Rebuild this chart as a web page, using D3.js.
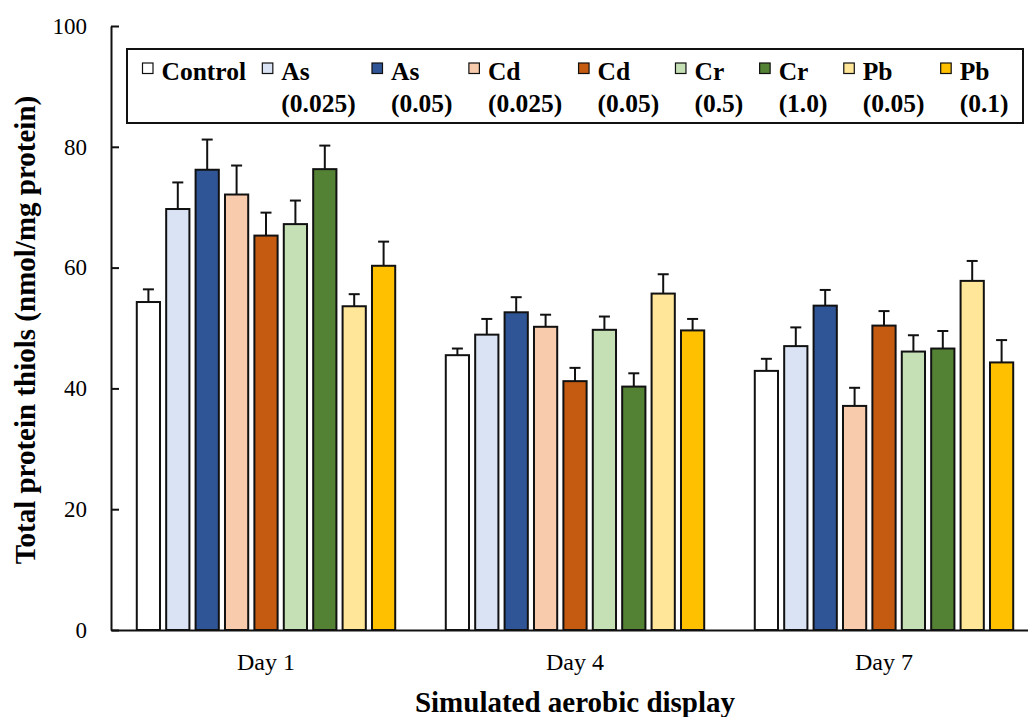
<!DOCTYPE html>
<html>
<head>
<meta charset="utf-8">
<script src="https://cdn.jsdelivr.net/npm/d3@7"></script>
<style>
  body { margin: 0; background: #fff; }
  #chart, #chart text { font-family: 'Liberation Serif', serif; }
</style>
</head>
<body>
<svg id="chart" width="1028" height="717"></svg>
<script>
// Chart data
const days = ["Day 1", "Day 4", "Day 7"];
const series = ["Control", "As 0.025", "As 0.05", "Cd 0.025", "Cd 0.05", "Cr 0.5", "Cr 1.0", "Pb 0.05", "Pb 0.1"];
const legendLine1 = ["Control", "As", "As", "Cd", "Cd", "Cr", "Cr", "Pb", "Pb"];
const legendLine2 = ["", "(0.025)", "(0.05)", "(0.025)", "(0.05)", "(0.5)", "(1.0)", "(0.05)", "(0.1)"];
const colors = ["#ffffff", "#dae3f3", "#2f5597", "#f8cbad", "#c55a11", "#c5e0b4", "#548235", "#ffe699", "#ffc000"];

const day1Values = [54.3, 69.7, 76.2, 72.1, 65.3, 67.2, 76.3, 53.6, 60.3];
const day4Values = [45.5, 48.9, 52.6, 50.2, 41.2, 49.7, 40.3, 55.7, 49.6];
const day7Values = [42.9, 47.0, 53.7, 37.1, 50.4, 46.1, 46.6, 57.8, 44.3];

const day1Errors = [2.1, 4.4, 5.0, 4.8, 3.8, 3.9, 3.9, 2.0, 4.0];
const day4Errors = [1.1, 2.6, 2.5, 2.0, 2.2, 2.2, 2.2, 3.2, 1.9];
const day7Errors = [2.0, 3.1, 2.6, 3.0, 2.4, 2.7, 2.9, 3.3, 3.7];

const yTicks = [0, 20, 40, 60, 80, 100];

const values = [day1Values, day4Values, day7Values];
const errors = [day1Errors, day4Errors, day7Errors];

const serif = "'Liberation Serif', serif";
const svg = d3.select("#chart");

const x0 = d3.scaleBand().domain(days).range([111.5, 1038.5]);
const x1 = d3.scaleBand().domain(series).range([0, x0.bandwidth()])
    .paddingInner(0.21).paddingOuter(0.86);
const y = d3.scaleLinear().domain([0, 100]).range([630, 26]);
const color = d3.scaleOrdinal().domain(series).range(colors);

// bars + error bars
const rows = [];
days.forEach((day, i) => {
  series.forEach((s, j) => {
    rows.push({ day: day, series: s, value: values[i][j], err: errors[i][j] });
  });
});

const g = svg.append("g");

// error bars go behind bars
const capHalf = 5.5;
const eb = g.selectAll(".err").data(rows).enter().append("g").attr("class", "err")
    .attr("stroke", "#111").attr("stroke-width", 2);
eb.append("line")
    .attr("x1", d => x0(d.day) + x1(d.series) + x1.bandwidth() / 2)
    .attr("x2", d => x0(d.day) + x1(d.series) + x1.bandwidth() / 2)
    .attr("y1", d => y(d.value))
    .attr("y2", d => y(d.value + d.err));
eb.append("line")
    .attr("x1", d => x0(d.day) + x1(d.series) + x1.bandwidth() / 2 - capHalf)
    .attr("x2", d => x0(d.day) + x1(d.series) + x1.bandwidth() / 2 + capHalf)
    .attr("y1", d => y(d.value + d.err))
    .attr("y2", d => y(d.value + d.err));

g.selectAll("rect.bar").data(rows).enter().append("rect")
    .attr("class", "bar")
    .attr("x", d => x0(d.day) + x1(d.series))
    .attr("y", d => y(d.value))
    .attr("width", x1.bandwidth())
    .attr("height", d => y(0) - y(d.value))
    .attr("fill", d => color(d.series))
    .attr("stroke", "#111")
    .attr("stroke-width", 2);

// y axis, ticks pointing inward
const yAxis = svg.append("g")
    .attr("transform", "translate(111,0)")
    .call(d3.axisLeft(y).tickValues(yTicks).tickSizeInner(-8).tickSizeOuter(0).tickPadding(24));
yAxis.select(".domain").attr("stroke", "#111").attr("stroke-width", 2);
yAxis.selectAll(".tick line").attr("stroke", "#111").attr("stroke-width", 2);
yAxis.selectAll("text").style("font-family", serif).attr("font-size", 23).attr("fill", "#000");

// x axis
const xAxis = svg.append("g")
    .attr("transform", "translate(0,630)")
    .call(d3.axisBottom(x0).tickSize(0).tickPadding(23));
xAxis.select(".domain").attr("stroke", "#111").attr("stroke-width", 2);
xAxis.selectAll("text").style("font-family", serif).attr("font-size", 24).attr("fill", "#000");

// axis titles
svg.append("text")
    .attr("x", 575).attr("y", 712)
    .attr("text-anchor", "middle")
    .style("font-family", serif)
    .style("font-weight", "bold")
    .attr("font-size", 29)
    .text("Simulated aerobic display");

svg.append("text")
    .attr("transform", "translate(35,330) rotate(-90)")
    .attr("text-anchor", "middle")
    .style("font-family", serif)
    .style("font-weight", "bold")
    .attr("font-size", 29)
    .text("Total protein thiols (nmol/mg protein)");

// legend
svg.append("rect")
    .attr("x", 127).attr("y", 49)
    .attr("width", 896).attr("height", 74)
    .attr("fill", "#fff").attr("stroke", "#111").attr("stroke-width", 2);

const legend = svg.append("g");
let lx = 142.5;
series.forEach((s, i) => {
  const item = legend.append("g");
  item.append("rect")
      .attr("x", lx).attr("y", 63)
      .attr("width", 10.5).attr("height", 10.5)
      .attr("fill", colors[i]).attr("stroke", "#111").attr("stroke-width", 1.2);
  const t1 = item.append("text").attr("x", lx + 19).attr("y", 80).text(legendLine1[i]);
  const t2 = item.append("text").attr("x", lx + 19).attr("y", 112).text(legendLine2[i]);
  item.selectAll("text").style("font-family", serif).style("font-weight", "bold").attr("font-size", 25.5);
  const w = Math.max(t1.node().getComputedTextLength(), t2.node().getComputedTextLength());
  lx += 19 + w + 16.3;
});
</script>
</body>
</html>
